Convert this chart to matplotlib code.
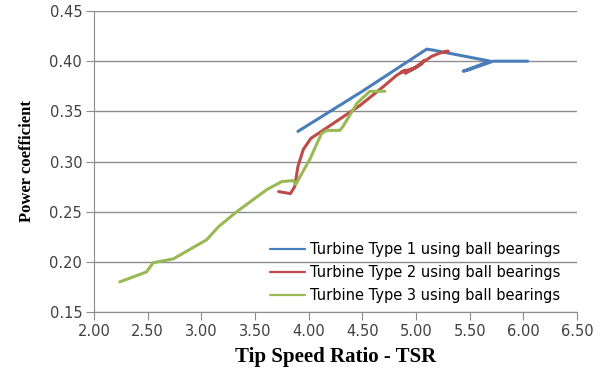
import numpy as np
import matplotlib.pyplot as plt

# Turbine type 1 (blue)
tsr1 = [3.90, 4.50, 5.10, 5.16, 5.69, 5.44, 5.48, 5.72, 6.04]
cp1 = [0.330, 0.370, 0.412, 0.411, 0.400, 0.390, 0.391, 0.400, 0.400]

# Turbine type 2 (red)
tsr2 = [3.72, 3.83, 3.87, 3.90, 3.95, 4.02, 4.23, 4.48, 4.70, 4.82, 4.90,
        4.86, 4.98, 4.90, 5.03, 4.95, 5.06, 4.99, 5.08, 5.05, 5.15, 5.22,
        5.30, 5.26]
cp2 = [0.270, 0.268, 0.275, 0.295, 0.312, 0.323, 0.338, 0.356, 0.375, 0.386,
       0.391, 0.389, 0.393, 0.388, 0.396, 0.391, 0.398, 0.393, 0.401, 0.398,
       0.405, 0.408, 0.410, 0.409]

# Turbine type 3 (green)
tsr3 = [2.24, 2.49, 2.55, 2.74, 3.05, 3.16, 3.33, 3.61, 3.75, 3.86, 3.88,
        3.92, 4.01, 4.12, 4.17, 4.29, 4.32, 4.45, 4.57, 4.71]
cp3 = [0.180, 0.190, 0.199, 0.203, 0.222, 0.235, 0.250, 0.272, 0.280, 0.281,
       0.277, 0.285, 0.302, 0.328, 0.331, 0.331, 0.335, 0.358, 0.370, 0.370]

labels = ["Turbine Type 1 using ball bearings",
          "Turbine Type 2 using ball bearings",
          "Turbine Type 3 using ball bearings"]
colors = ["#4A7EBB", "#BE4B48", "#98B954"]

fig = plt.figure(figsize=(6.09, 3.72), dpi=100)
ax = fig.add_axes([94 / 609, 1 - 312 / 372, (577 - 94) / 609, (312 - 11) / 372])

for x, y, lab, c in zip([tsr1, tsr2, tsr3], [cp1, cp2, cp3], labels, colors):
    ax.plot(x, y, color=c, lw=2.2, label=lab, solid_joinstyle="round",
            solid_capstyle="round")

ax.set_xlim(2.0, 6.5)
ax.set_ylim(0.15, 0.45)
xt = np.arange(2.0, 6.51, 0.5)
yt = np.arange(0.15, 0.451, 0.05)
ax.set_xticks(xt)
ax.set_yticks(yt)
ax.set_xticklabels([f"{v:.2f}" for v in xt])
ax.set_yticklabels([f"{v:.2f}" for v in yt])
ax.yaxis.grid(True, color="#8c8c8c", lw=1)
ax.set_axisbelow(True)
for s in ["top", "right"]:
    ax.spines[s].set_visible(False)
for s in ["left", "bottom"]:
    ax.spines[s].set_color("#8c8c8c")
ax.tick_params(colors="#8c8c8c", labelcolor="#404040", labelsize=10.5,
               length=5.5, pad=3)

ax.set_xlabel("Tip Speed Ratio - TSR", family="Liberation Serif",
              fontweight="bold", fontsize=15, labelpad=6)
ax.set_ylabel("Power coefficient", family="Liberation Serif",
              fontweight="bold", fontsize=12, labelpad=10)

leg = ax.legend(loc="upper left", bbox_to_anchor=(0.364, 0.232), frameon=False,
                fontsize=10.5, handlelength=2.4, handletextpad=0.35,
                labelspacing=0.55, borderpad=0, borderaxespad=0)
for h in leg.get_lines():
    h.set_linewidth(1.6)

plt.savefig("out.png", dpi=100)
